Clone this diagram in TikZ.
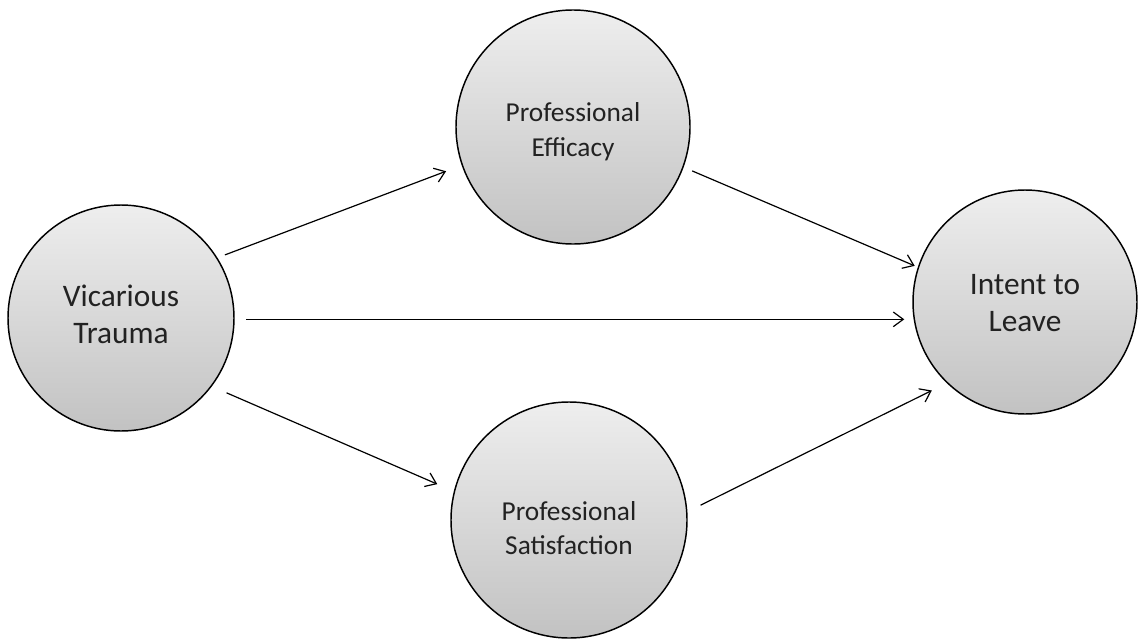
\documentclass[tikz,border=0pt]{standalone}
\usepackage{fontspec}
\setmainfont{Carlito}
\usetikzlibrary{arrows.meta}
\definecolor{ctop}{HTML}{EEEEEE}
\definecolor{cbot}{HTML}{C2C2C2}
\definecolor{txt}{HTML}{222222}
\tikzset{
  bubble/.style={circle, draw=black, line width=1.1pt, inner sep=0pt,
    top color=ctop, bottom color=cbot},
  lbl/.style={align=center, text=txt, inner sep=0pt},
  bigtext/.style={lbl, font=\fontsize{23.5pt}{27.5pt}\selectfont},
  smalltext/.style={lbl, font=\fontsize{20.5pt}{26pt}\selectfont},
  arr/.style={line width=0.9pt, -{Straight Barb[length=7.5pt,width=11pt,line width=0.9pt]}}
}
\begin{document}
\begin{tikzpicture}[x=0.75pt,y=-0.75pt]
\useasboundingbox (0,0) rectangle (1139,639);
\node[bubble, minimum size=169.5pt] (vt) at (121,318) {};
\node[bubble, minimum size=175.5pt] (pe) at (573,127) {};
\node[bubble, minimum size=177pt] (ps) at (569,520) {};
\node[bubble, minimum size=168pt] (il) at (1025,302) {};
\node[bigtext] (vtl) at (121,314) {Vicarious\\Trauma};
\node[smalltext] (pel) at (573,132) {Professional\\Efficacy};
\node[smalltext] (psl) at (569,528) {Professional\\Satisfaction};
\node[bigtext] (ill) at (1025,303) {Intent to\\Leave};
\draw[arr, shorten <=6pt, shorten >=12.5pt] (vt.32) -- (pe.199);
\draw[arr, shorten <=8.5pt, shorten >=6pt] ([yshift=-1pt]vt.east) -- ([yshift=-1pt]vt.east -| il.west);
\draw[arr, shorten <=12pt, shorten >=13.5pt] (vt.-37) -- (ps.166);
\draw[arr, shorten <=7pt, shorten >=2.5pt] (pe.-20) -- (il.162);
\draw[arr, shorten <=11pt, shorten >=12.5pt] (ps.4) -- (il.226);
\end{tikzpicture}
\end{document}
